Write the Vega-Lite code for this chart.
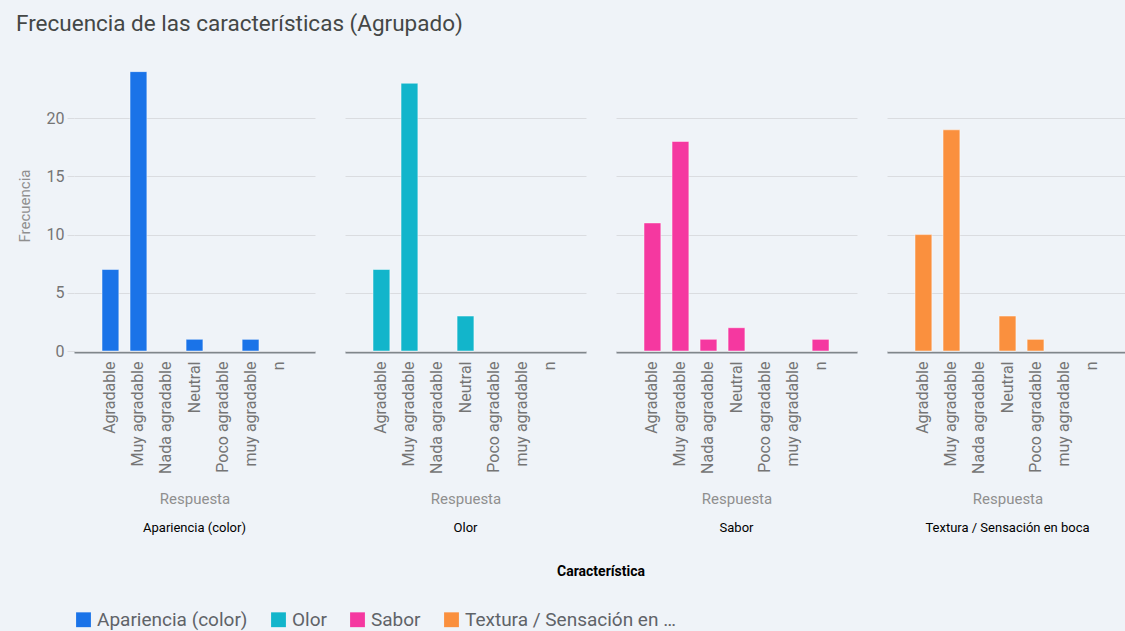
{
  "$schema": "https://vega.github.io/schema/vega-lite/v6.json",
  "background": "#eff3f8",
  "padding": {"left": 16, "top": 12, "right": 5, "bottom": 2},
  "title": {
    "text": "Frecuencia de las características (Agrupado)",
    "anchor": "start",
    "font": "Roboto",
    "fontSize": 22.5,
    "fontWeight": "normal",
    "color": "#444746",
    "dx": -1,
    "offset": 25
  },
  "data": {
    "values": [
      {"Característica": "Apariencia (color)", "Respuesta": "Agradable", "Frecuencia": 7},
      {"Característica": "Apariencia (color)", "Respuesta": "Muy agradable", "Frecuencia": 24},
      {"Característica": "Apariencia (color)", "Respuesta": "Neutral", "Frecuencia": 1},
      {"Característica": "Apariencia (color)", "Respuesta": "muy agradable", "Frecuencia": 1},
      {"Característica": "Olor", "Respuesta": "Agradable", "Frecuencia": 7},
      {"Característica": "Olor", "Respuesta": "Muy agradable", "Frecuencia": 23},
      {"Característica": "Olor", "Respuesta": "Neutral", "Frecuencia": 3},
      {"Característica": "Sabor", "Respuesta": "Agradable", "Frecuencia": 11},
      {"Característica": "Sabor", "Respuesta": "Muy agradable", "Frecuencia": 18},
      {"Característica": "Sabor", "Respuesta": "Nada agradable", "Frecuencia": 1},
      {"Característica": "Sabor", "Respuesta": "Neutral", "Frecuencia": 2},
      {"Característica": "Sabor", "Respuesta": "n", "Frecuencia": 1},
      {"Característica": "Textura / Sensación en boca", "Respuesta": "Agradable", "Frecuencia": 10},
      {"Característica": "Textura / Sensación en boca", "Respuesta": "Muy agradable", "Frecuencia": 19},
      {"Característica": "Textura / Sensación en boca", "Respuesta": "Neutral", "Frecuencia": 3},
      {"Característica": "Textura / Sensación en boca", "Respuesta": "Poco agradable", "Frecuencia": 1}
    ]
  },
  "facet": {
    "column": {
      "field": "Característica",
      "type": "nominal",
      "header": {
        "labelOrient": "bottom",
        "titleOrient": "bottom",
        "labelFont": "Roboto",
        "labelFontSize": 13,
        "labelColor": "#000000",
        "labelPadding": 16,
        "titleFont": "Roboto",
        "titleFontSize": 14,
        "titleFontWeight": "bold",
        "titleColor": "#000000",
        "titlePadding": 19
      }
    }
  },
  "spacing": 30,
  "spec": {
    "width": 241,
    "height": 291,
    "mark": {"type": "bar", "stroke": "#ffffff", "strokeOpacity": 0.45, "strokeWidth": 1},
    "encoding": {
      "x": {
        "field": "Respuesta",
        "type": "nominal",
        "scale": {
          "domain": ["Agradable", "Muy agradable", "Nada agradable", "Neutral", "Poco agradable", "muy agradable", "n"],
          "paddingInner": 0.4,
          "paddingOuter": 1.0
        },
        "axis": {
          "labelAngle": -90,
          "labelFont": "Roboto",
          "labelFontSize": 16,
          "labelColor": "#757575",
          "labelPadding": 9,
          "ticks": false,
          "domainColor": "#80868b",
          "domainWidth": 2,
          "titleFont": "Roboto",
          "titleFontSize": 15,
          "titleFontWeight": "normal",
          "titleColor": "#8f8f8f",
          "titlePadding": 18
        }
      },
      "y": {
        "field": "Frecuencia",
        "type": "quantitative",
        "scale": {"domain": [0, 25], "nice": false},
        "axis": {
          "values": [0, 5, 10, 15, 20],
          "labelFont": "Roboto",
          "labelFontSize": 16,
          "labelColor": "#757575",
          "labelPadding": 3,
          "tickSize": 7,
          "tickColor": "#dadce0",
          "domain": false,
          "gridColor": "#dadce0",
          "titleFont": "Roboto",
          "titleFontSize": 15,
          "titleFontWeight": "normal",
          "titleColor": "#8f8f8f",
          "titlePadding": 14
        }
      },
      "color": {
        "field": "Característica",
        "type": "nominal",
        "scale": {
          "domain": ["Apariencia (color)", "Olor", "Sabor", "Textura / Sensación en boca"],
          "range": ["#1a73e8", "#12b5cb", "#f538a0", "#fa903e"]
        },
        "legend": {
          "orient": "bottom",
          "direction": "horizontal",
          "title": null,
          "symbolType": "square",
          "symbolSize": 220,
          "symbolStrokeWidth": 0,
          "symbolOpacity": 1,
          "labelFont": "Roboto",
          "labelFontSize": 19,
          "labelColor": "#5f6368",
          "labelLimit": 212,
          "columnPadding": 21,
          "offset": 31
        }
      }
    }
  },
  "config": {
    "view": {"stroke": null},
    "font": "Roboto"
  }
}
